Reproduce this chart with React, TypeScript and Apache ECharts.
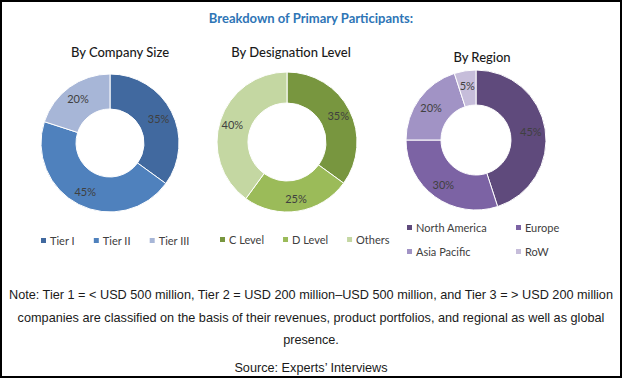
import React, { useEffect, useRef } from "react";
import * as echarts from "echarts";

const sizeNames = ["Tier I", "Tier II", "Tier III"];
const sizeValues = [35, 45, 20];
const sizeColors = ["#41699f", "#4f81bd", "#a7b6d7"];

const desigNames = ["C Level", "D Level", "Others"];
const desigValues = [35, 25, 40];
const desigColors = ["#78963f", "#9bbb59", "#c4d7a2"];

const regionNames = ["North America", "Europe", "Asia Pacific", "RoW"];
const regionValues = [45, 30, 20, 5];
const regionColors = ["#5f4a7c", "#7c63a4", "#a193c5", "#c6bdda"];

const mainTitle = "Breakdown of Primary Participants:";
const subTitles = ["By Company Size", "By Designation Level", "By Region"];
const noteLines = [
  "Note: Tier 1 = < USD 500 million, Tier 2 = USD 200 million\u2013USD 500 million, and Tier 3 = > USD 200 million",
  "companies are classified on the basis of their revenues, product portfolios, and regional as well as global",
  "presence.",
];
const sourceText = "Source: Experts\u2019 Interviews";

const FONT = "Lato, 'Open Sans', sans-serif";
const NOTE_FONT = "'Liberation Sans', Arial, sans-serif";

function makePie(names: string[], values: number[], colors: string[], center: [number, number], radius: [number, number]) {
  return {
    type: "pie",
    center,
    radius,
    startAngle: 90,
    clockwise: true,
    avoidLabelOverlap: false,
    itemStyle: { borderColor: "#ffffff", borderWidth: 1 },
    label: {
      show: true,
      position: "inside",
      formatter: "{c}%",
      color: "#404040",
      fontSize: 11,
      fontFamily: FONT,
    },
    labelLine: { show: false },
    emphasis: { disabled: true },
    data: names.map((n, i) => ({ name: n, value: values[i], itemStyle: { color: colors[i] } })),
  };
}

function makeLegend(data: string[], left: number, top: number, orient: string, itemGap: number) {
  return {
    data,
    left,
    top,
    orient,
    itemGap,
    itemWidth: 7,
    itemHeight: 7,
    icon: "rect",
    padding: 0,
    textStyle: { color: "#404040", fontSize: 11, fontFamily: FONT, padding: [0, 0, 0, -2] },
    selectedMode: false,
  };
}

export default function App() {
  const ref = useRef<HTMLDivElement>(null);
  useEffect(() => {
    if (!ref.current) return;
    const chart = echarts.init(ref.current, undefined, { renderer: "svg" });
    chart.setOption({
      animation: false,
      backgroundColor: "#ffffff",
      title: [
        {
          text: mainTitle,
          left: "center",
          top: 6,
          textStyle: { color: "#2e75b6", fontSize: 13, fontWeight: "bold", fontFamily: FONT },
        },
        { text: subTitles[0], left: 115, top: 40, textAlign: "center", textStyle: { color: "#1a1a1a", fontSize: 13, fontWeight: 500, fontFamily: FONT } },
        { text: subTitles[1], left: 286, top: 40, textAlign: "center", textStyle: { color: "#1a1a1a", fontSize: 13, fontWeight: 500, fontFamily: FONT } },
        { text: subTitles[2], left: 477, top: 45, textAlign: "center", textStyle: { color: "#1a1a1a", fontSize: 13, fontWeight: 500, fontFamily: FONT } },
      ],
      legend: [
        makeLegend(sizeNames, 39, 235, "horizontal", 17),
        makeLegend(desigNames, 218, 234, "horizontal", 17),
        makeLegend([regionNames[0], regionNames[2]], 405, 222, "vertical", 13),
        makeLegend([regionNames[1], regionNames[3]], 514, 222, "vertical", 13),
      ],
      series: [
        makePie(sizeNames, sizeValues, sizeColors, [110, 143], [34, 69]),
        makePie(desigNames, desigValues, desigColors, [287, 142], [39, 70]),
        makePie(regionNames, regionValues, regionColors, [476, 140], [35, 70]),
      ],
      graphic: [
        {
          type: "rect",
          shape: { x: 1, y: 1, width: 620, height: 376 },
          style: { fill: "none", stroke: "#000000", lineWidth: 2 },
          silent: true,
        },
        ...noteLines.map((t, i) => ({
          type: "text",
          x: 311,
          y: [295, 318, 340][i],
          style: {
            text: t,
            fill: "#1a1a1a",
            fontSize: 12.7,
            fontFamily: NOTE_FONT,
            align: "center",
            verticalAlign: "middle",
          },
        })),
        {
          type: "text",
          x: 311,
          y: 368,
          style: {
            text: sourceText,
            fill: "#1a1a1a",
            fontSize: 12.7,
            fontFamily: NOTE_FONT,
            align: "center",
            verticalAlign: "middle",
          },
        },
      ],
    });
    return () => chart.dispose();
  }, []);
  return (
    <div
      ref={ref}
      style={{ position: "fixed", left: 0, top: 0, width: 622, height: 378 }}
    />
  );
}
